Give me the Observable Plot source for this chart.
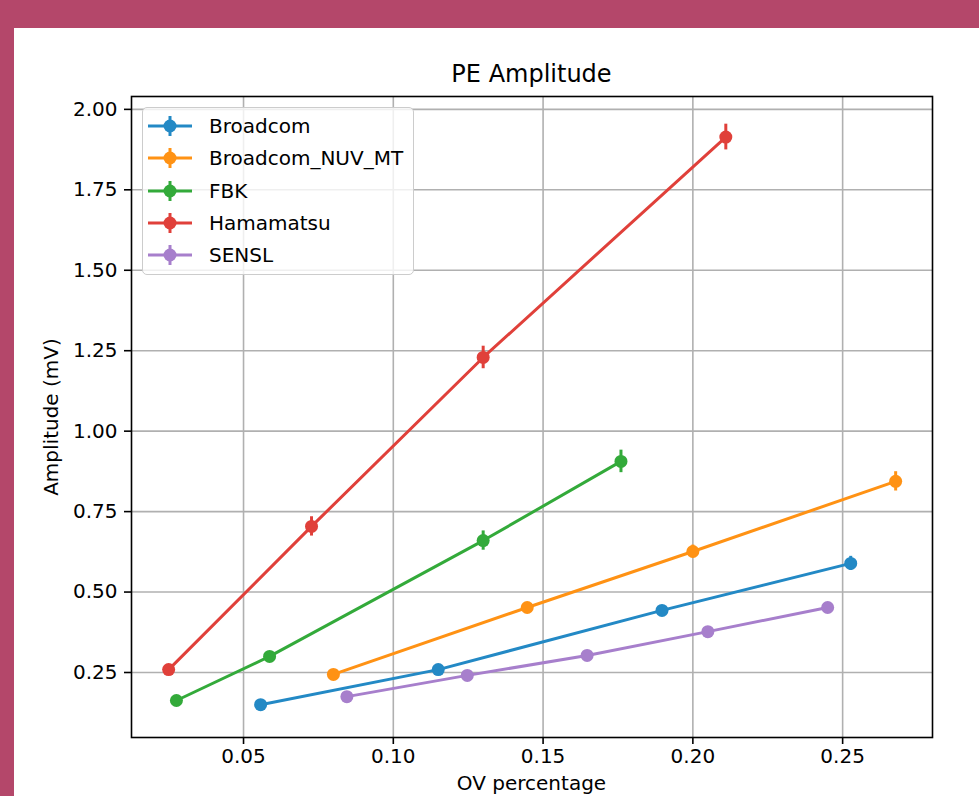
<!DOCTYPE html>
<html>
<head>
<meta charset="utf-8">
<script src="https://cdn.jsdelivr.net/npm/d3@7"></script>
<script src="https://cdn.jsdelivr.net/npm/@observablehq/plot@0.6"></script>
<style>
  html, body { margin: 0; padding: 0; }
  body { width: 979px; height: 796px; background: #b4476a; position: relative; overflow: hidden; font-family: "DejaVu Sans", sans-serif; }
  #panel { position: absolute; left: 14px; top: 28px; width: 965px; height: 768px; background: #fff; overflow: hidden; }
  #chart { position: absolute; left: 0; top: 0; }
  .title { position: absolute; left: 117px; width: 801px; top: 34px; text-align: center; font-size: 24px; line-height: 24px; color: #000; }
  .xlabel { position: absolute; left: 117px; width: 801px; top: 745px; text-align: center; font-size: 20px; line-height: 20px; color: #000; }
  .ylabel { position: absolute; left: -113px; width: 300px; top: 378.5px; text-align: center; font-size: 20px; line-height: 20px; color: #000; transform: rotate(-90deg); }
  .legend { position: absolute; left: 128px; top: 79px; width: 272px; height: 168px; box-sizing: border-box; background: rgba(255,255,255,0.8); border: 1.6px solid #cccccc; border-radius: 5px; }
  .legend .row { position: absolute; left: 5px; height: 32px; display: flex; align-items: center; font-size: 20px; color: #000; }
  .legend .row svg { margin-right: 17px; }
</style>
</head>
<body>
<div id="panel">
  <div id="chart"></div>
  <div class="title">PE Amplitude</div>
  <div class="ylabel">Amplitude (mV)</div>
  <div class="xlabel">OV percentage</div>
  <div class="legend" id="legend"></div>
</div>
<script>
const series = ["Broadcom", "Broadcom_NUV_MT", "FBK", "Hamamatsu", "SENSL"];
const colors = ["#2389c5", "#ff9214", "#33aa3a", "#e0403a", "#a77fcc"];

const broadcomX = [0.0557, 0.115, 0.1897, 0.2527];
const broadcomY = [0.150, 0.259, 0.443, 0.589];
const broadcomErr = [0.006, 0.010, 0.015, 0.022];

const nuvX = [0.080, 0.1447, 0.200, 0.2677];
const nuvY = [0.244, 0.452, 0.626, 0.844];
const nuvErr = [0.010, 0.015, 0.020, 0.030];

const fbkX = [0.0276, 0.0587, 0.130, 0.176];
const fbkY = [0.163, 0.300, 0.660, 0.906];
const fbkErr = [0.008, 0.012, 0.030, 0.035];

const hamX = [0.025, 0.0727, 0.130, 0.211];
const hamY = [0.259, 0.704, 1.229, 1.914];
const hamErr = [0.012, 0.030, 0.035, 0.040];

const senslX = [0.0845, 0.1247, 0.1647, 0.205, 0.245];
const senslY = [0.175, 0.241, 0.303, 0.377, 0.452];
const senslErr = [0.006, 0.008, 0.010, 0.012, 0.015];

const xTicks = [0.05, 0.10, 0.15, 0.20, 0.25];
const yTicks = [0.25, 0.50, 0.75, 1.00, 1.25, 1.50, 1.75, 2.00];

const seriesData = [
  [broadcomX, broadcomY, broadcomErr],
  [nuvX, nuvY, nuvErr],
  [fbkX, fbkY, fbkErr],
  [hamX, hamY, hamErr],
  [senslX, senslY, senslErr]
];

const table = [];
seriesData.forEach(([xs, ys, es], i) => {
  xs.forEach((x, j) => table.push({series: series[i], order: i, x, y: ys[j], err: es[j]}));
});

const marks = [
  Plot.gridX(xTicks, {stroke: "#b0b0b0", strokeOpacity: 1, strokeWidth: 1.6}),
  Plot.gridY(yTicks, {stroke: "#b0b0b0", strokeOpacity: 1, strokeWidth: 1.6})
];
series.forEach(s => {
  const d = table.filter(r => r.series === s);
  marks.push(Plot.line(d, {x: "x", y: "y", stroke: "series", strokeWidth: 3}));
  marks.push(Plot.ruleX(d, {x: "x", y1: r => r.y - r.err, y2: r => r.y + r.err, stroke: "series", strokeWidth: 3}));
  marks.push(Plot.dot(d, {x: "x", y: "y", fill: "series", r: 6.5, stroke: "none"}));
});
marks.push(Plot.axisX({ticks: xTicks, tickFormat: d => d.toFixed(2), tickSize: 7, tickPadding: 4, strokeWidth: 1.6, label: null, fontSize: 20}));
marks.push(Plot.axisY({ticks: yTicks, tickFormat: d => d.toFixed(2), tickSize: 7, tickPadding: 7, strokeWidth: 1.6, label: null, fontSize: 20}));
marks.push(Plot.frame({stroke: "#000", strokeWidth: 1.6}));

const chart = Plot.plot({
  width: 965,
  height: 768,
  marginLeft: 117,
  marginRight: 47,
  marginTop: 68,
  marginBottom: 59,
  style: {background: "transparent", fontFamily: "DejaVu Sans", fontSize: "20px", color: "#000", overflow: "visible"},
  x: {type: "linear", domain: [0.0126, 0.28]},
  y: {type: "linear", domain: [0.048, 2.040]},
  color: {domain: series, range: colors},
  marks
});
document.getElementById("chart").appendChild(chart);

const legend = document.getElementById("legend");
series.forEach((s, i) => {
  const row = document.createElement("div");
  row.className = "row";
  row.style.top = (2 + i * 32.3) + "px";
  const c = colors[i];
  row.innerHTML = `<svg width="44" height="32" viewBox="0 0 44 32"><line x1="0" y1="16" x2="44" y2="16" stroke="${c}" stroke-width="3"/><line x1="22" y1="6" x2="22" y2="26" stroke="${c}" stroke-width="3"/><circle cx="22" cy="16" r="6.5" fill="${c}"/></svg><span>${s}</span>`;
  legend.appendChild(row);
});
</script>
</body>
</html>
